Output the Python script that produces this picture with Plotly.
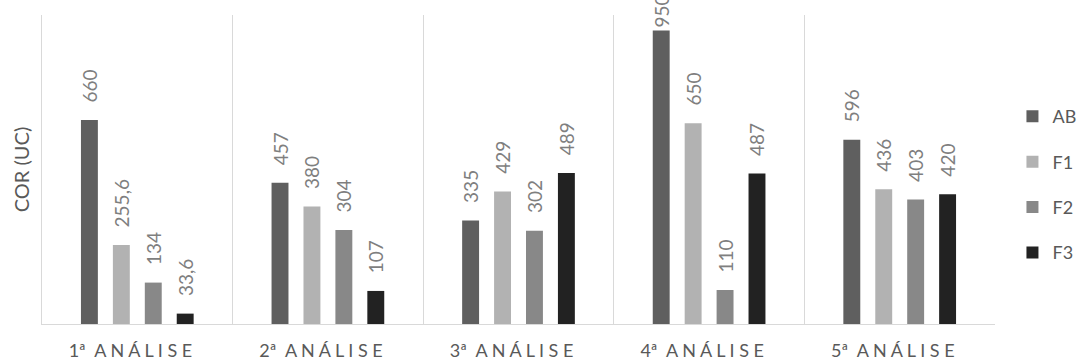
import plotly.graph_objects as go

# Categories (analysis rounds) and colour values per filter stage
categories = ["1ª ANÁLISE", "2ª ANÁLISE", "3ª ANÁLISE", "4ª ANÁLISE", "5ª ANÁLISE"]
series_names = ["AB", "F1", "F2", "F3"]
ab = [660, 457, 335, 950, 596]
f1 = [255.6, 380, 429, 650, 436]
f2 = [134, 304, 302, 110, 403]
f3 = [33.6, 107, 489, 487, 420]
series_values = [ab, f1, f2, f3]
series_colors = ["#5f5f5f", "#b2b2b2", "#888888", "#222222"]

FONT = "Lato, Carlito, 'Open Sans', sans-serif"
TEXT_GREY = "#595959"
LABEL_GREY = "#7f7f7f"
LINE_GREY = "#d9d9d9"
Y_MAX = 1000


def spaced(label):
    # widen letter spacing of the category labels (trailing spacing as well)
    num, word = label.split(" ", 1)
    return num + "  " + " ".join(word) + "\u00a0\u00a0\u00a0"


def fmt(v):
    # decimal comma; labels close to the top of the axis hug their bar
    pad = "" if v > 0.9 * Y_MAX else "\u00a0\u00a0\u00a0"
    return pad + f"{v:g}".replace(".", ",")


tick_text = [spaced(c) for c in categories]

fig = go.Figure()
for name, vals, color in zip(series_names, series_values, series_colors):
    fig.add_trace(go.Bar(
        name=name,
        x=categories,
        y=vals,
        marker=dict(color=color, line=dict(width=0)),
        text=[fmt(v) for v in vals],
        textposition="outside",
        textangle=-90,
        constraintext="none",
        cliponaxis=False,
        textfont=dict(family=FONT, size=19, color=LABEL_GREY),
        legendgroup=name,
    ))

fig.update_layout(
    width=1084,
    height=364,
    margin=dict(l=42, r=89, t=15, b=40, autoexpand=False),
    paper_bgcolor="white",
    plot_bgcolor="white",
    barmode="group",
    bargap=0.33,
    bargroupgap=0.47,
    font=dict(family=FONT, size=18, color=TEXT_GREY),
    showlegend=True,
    legend=dict(
        xref="container", yref="container",
        x=0.934, xanchor="left",
        y=0.493, yanchor="middle",
        traceorder="grouped",
        tracegroupgap=19,
        font=dict(family=FONT, size=18, color=TEXT_GREY),
        bgcolor="rgba(0,0,0,0)",
    ),
    xaxis=dict(
        tickmode="array",
        tickvals=categories,
        ticktext=tick_text,
        tickson="boundaries",
        ticks="",
        showgrid=True,
        gridcolor=LINE_GREY,
        gridwidth=1,
        showline=True,
        linecolor=LINE_GREY,
        linewidth=1,
        automargin=False,
        tickfont=dict(family=FONT, size=18, color=TEXT_GREY),
        ticklabelstandoff=10,
    ),
    yaxis=dict(
        range=[0, Y_MAX],
        showticklabels=False,
        showgrid=False,
        zeroline=False,
        showline=True,
        linecolor=LINE_GREY,
        linewidth=1,
        ticks="",
        title=dict(text="COR (UC)", font=dict(family=FONT, size=20, color=TEXT_GREY), standoff=6),
    ),
)

fig.write_html("out.html")
